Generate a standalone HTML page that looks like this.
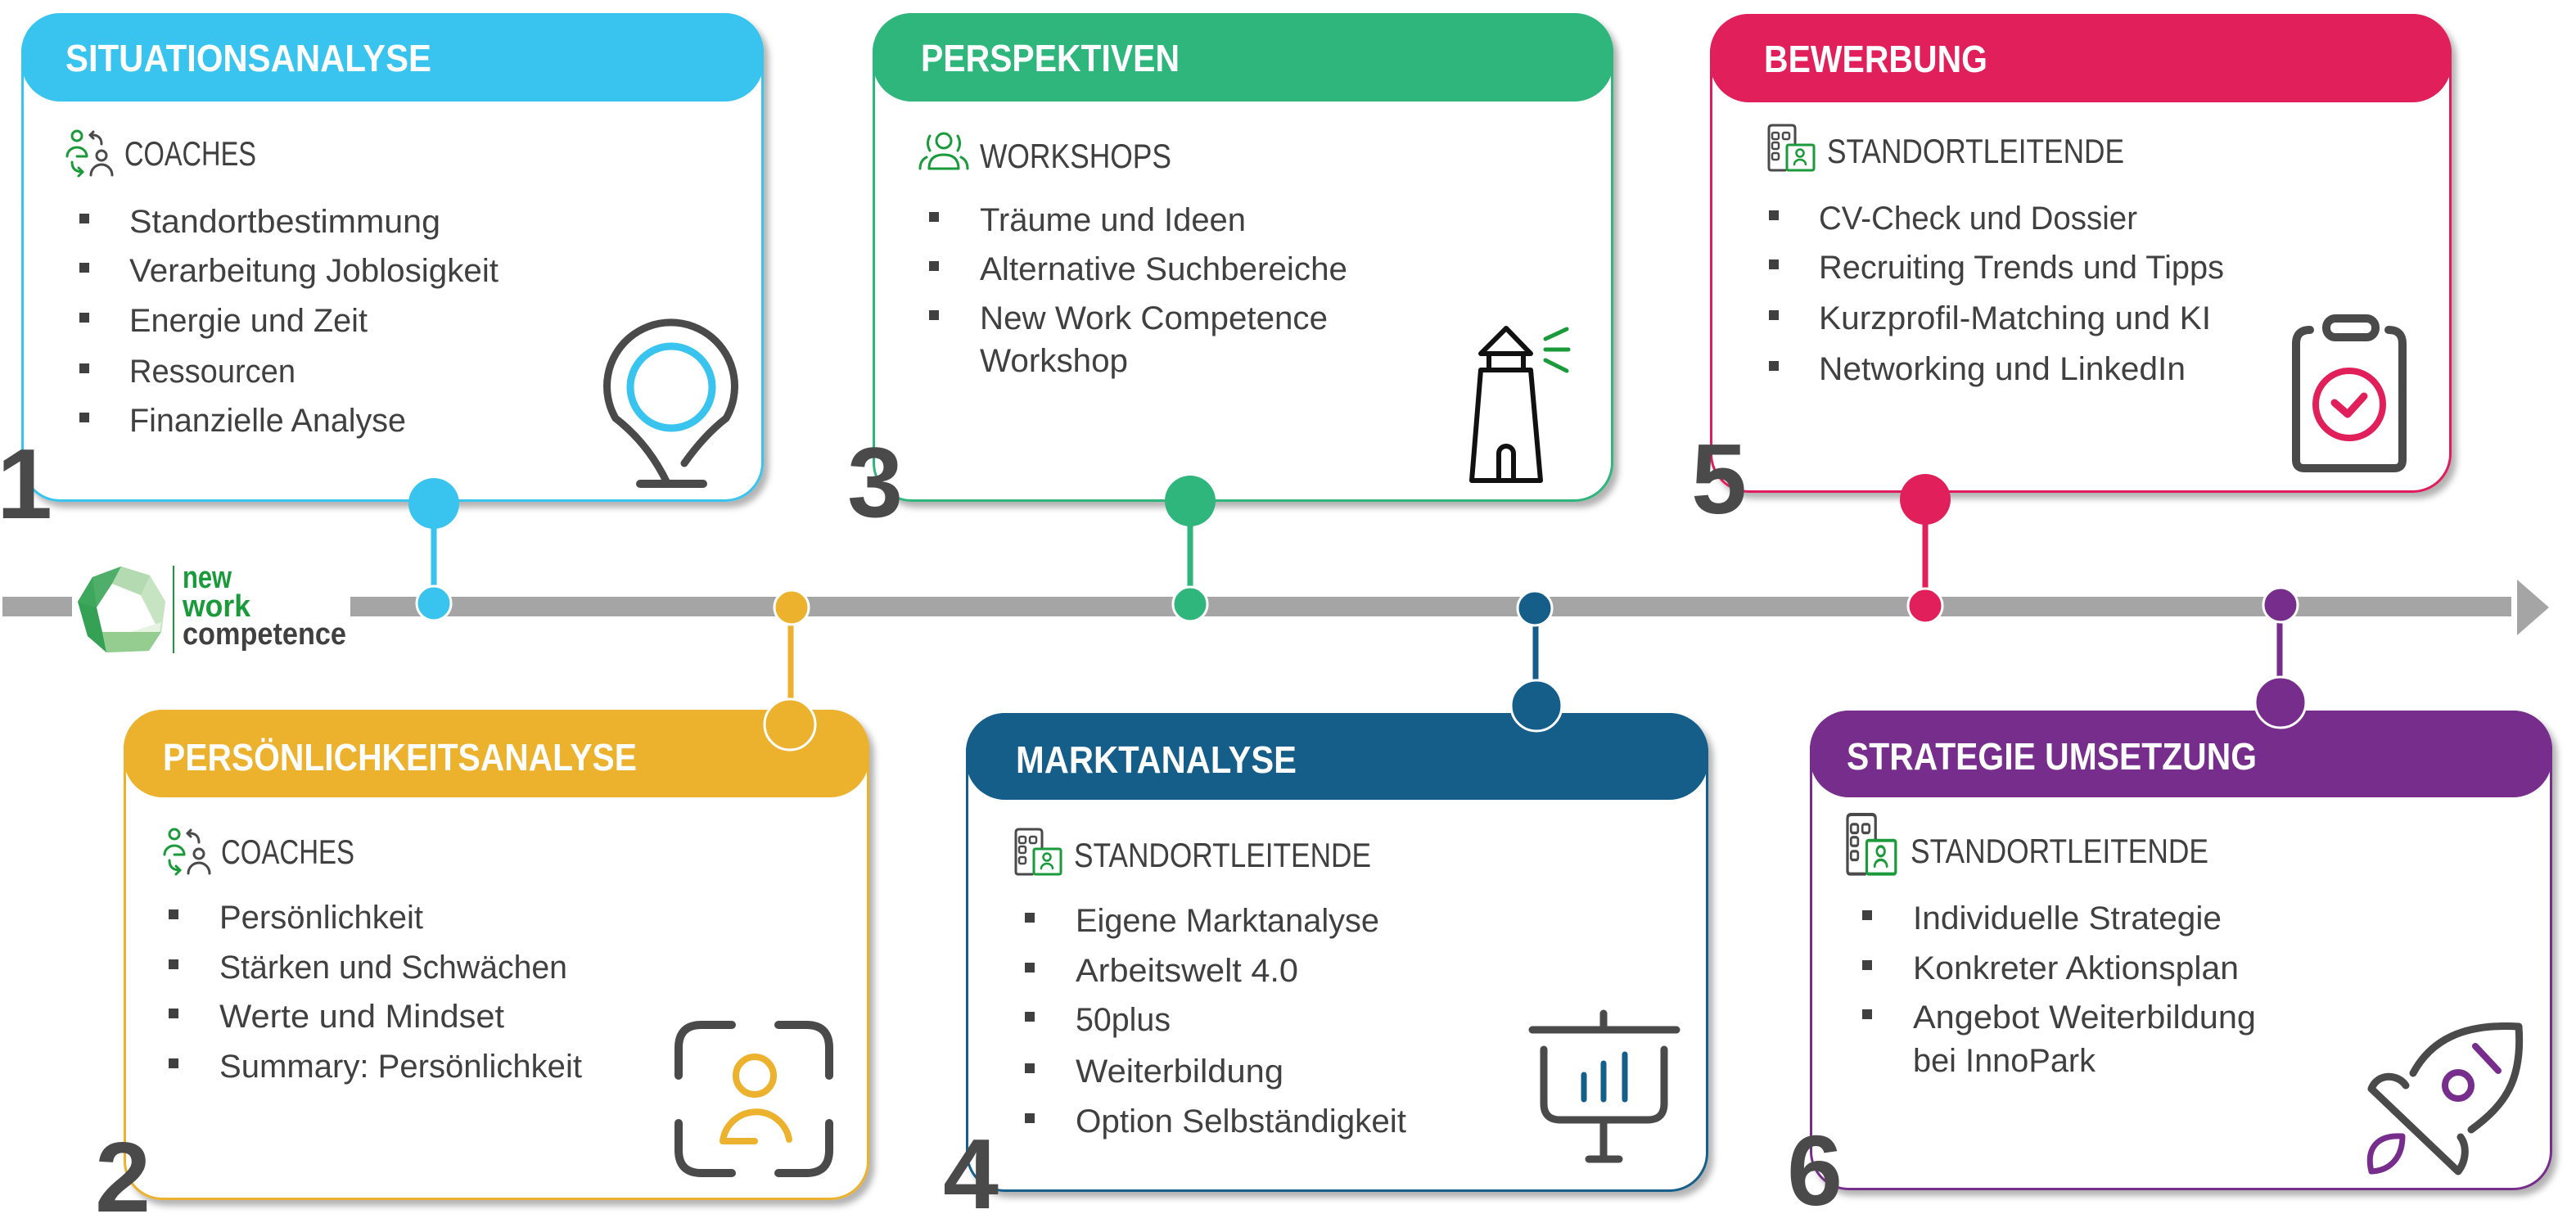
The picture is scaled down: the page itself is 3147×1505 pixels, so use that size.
<!DOCTYPE html>
<html><head><meta charset="utf-8"><style>
html,body{margin:0;padding:0;background:#fff;}
svg{display:block;}
text{font-family:"Liberation Sans",Arial,sans-serif;}
</style></head><body>
<svg width="3147" height="1505" viewBox="0 0 3147 1505" xmlns="http://www.w3.org/2000/svg">
<defs>
<filter id="sh" x="-5%" y="-5%" width="112%" height="115%">
<feDropShadow dx="6" dy="7" stdDeviation="4" flood-color="#000" flood-opacity="0.3"/>
</filter>
<g id="coach" fill="none" stroke-width="3" stroke-linecap="round" stroke-linejoin="round">
<circle cx="14" cy="8" r="6" stroke="#1a9a3a"/>
<path d="M2,33 A12,11 0 0 1 26,33 L14,33" stroke="#1a9a3a"/>
<path d="M8,40 Q8,52 21,52" stroke="#1a9a3a"/>
<path d="M16,47 L21,52 L16,57" stroke="#1a9a3a"/>
<path d="M30,7 Q44,6 44,18" stroke="#4a4a4a"/>
<path d="M34,3 L30,7 L34,11" stroke="#4a4a4a"/>
<circle cx="44" cy="32" r="6" stroke="#4a4a4a"/>
<path d="M31,56 A13,13 0 0 1 57,56" stroke="#4a4a4a"/>
</g>
<g id="leit" fill="none" stroke-width="3" stroke-linejoin="round" stroke-linecap="round">
<path d="M32,23 V4 Q32,0 28,0 H4 Q0,0 0,4 V52 Q0,55 3,55 H20" stroke="#4a4a4a"/>
<rect x="4" y="9" width="8" height="8" rx="2" stroke="#4a4a4a" stroke-width="2.5"/>
<rect x="17" y="9" width="8" height="8" rx="2" stroke="#4a4a4a" stroke-width="2.5"/>
<rect x="4" y="21" width="8" height="8" rx="2" stroke="#4a4a4a" stroke-width="2.5"/>
<rect x="4" y="34" width="8" height="8" rx="2" stroke="#4a4a4a" stroke-width="2.5"/>
<rect x="22" y="24" width="33" height="31" rx="2" stroke="#1a9a3a" fill="#fff"/>
<circle cx="38" cy="34" r="4.5" stroke="#1a9a3a" stroke-width="2.5"/>
<path d="M31,48 A7,6 0 0 1 45,48" stroke="#1a9a3a" stroke-width="2.5"/>
</g>
</defs>

<!-- ===== Timeline ===== -->
<rect x="3" y="729" width="85" height="24" fill="#a5a5a5"/>
<rect x="428" y="729" width="2640" height="24" fill="#a5a5a5"/>
<polygon points="3075,708 3114,742 3075,776" fill="#a5a5a5"/>

<!-- Logo -->
<polygon points="148,692 183,703 202,735 197,772 182,795 130,797 107,777 95,735 113,705" fill="#8fcb8e"/>
<polygon points="148,692 113,705 95,735 118,742 137,713" fill="#4fae6a"/>
<polygon points="95,735 107,777 130,797 125,772 118,742" fill="#34a155"/>
<polygon points="113,705 95,735 118,742" fill="#3da75b"/>
<polygon points="125,772 130,797 182,795 195,772" fill="#95cd91"/>
<polygon points="148,692 183,703 172,727 137,713" fill="#b3dab0"/>
<polygon points="183,703 202,735 197,772 195,772 172,727" fill="#c6e4c1"/>
<polygon points="137,713 172,727 195,772 125,772 118,742" fill="#ffffff"/>
<polygon points="160,772 195,772 197,760" fill="#e6f3e3"/>
<line x1="212" y1="691" x2="212" y2="798" stroke="#1a9a3a" stroke-width="2"/>
<text x="223" y="718" font-size="38" font-weight="bold" fill="#1a9a3a" textLength="60" lengthAdjust="spacingAndGlyphs">new</text>
<text x="223" y="753" font-size="38" font-weight="bold" fill="#1a9a3a" textLength="83" lengthAdjust="spacingAndGlyphs">work</text>
<text x="223" y="787" font-size="38" font-weight="bold" fill="#404040" textLength="200" lengthAdjust="spacingAndGlyphs">competence</text>

<!-- ===== Box 1 ===== -->
<rect x="27.5" y="17.5" width="904" height="594" rx="46" fill="#fff" stroke="#38c4ef" stroke-width="3" filter="url(#sh)"/>
<rect x="26" y="16" width="907" height="108" rx="48" fill="#38c4ef"/>
<text x="80" y="87" font-size="46" font-weight="bold" fill="#fff" textLength="447" lengthAdjust="spacingAndGlyphs">SITUATIONSANALYSE</text>
<use href="#coach" x="80" y="158"/>
<text x="152" y="202" font-size="42" fill="#404040" textLength="161" lengthAdjust="spacingAndGlyphs">COACHES</text>
<g fill="#404040">
<rect x="97" y="261" width="12" height="12"/><rect x="97" y="321" width="12" height="12"/><rect x="97" y="382" width="12" height="12"/><rect x="97" y="444" width="12" height="12"/><rect x="97" y="504" width="12" height="12"/>
</g>
<g font-size="40" fill="#404040">
<text x="158" y="284" textLength="380" lengthAdjust="spacingAndGlyphs">Standortbestimmung</text>
<text x="158" y="344" textLength="451" lengthAdjust="spacingAndGlyphs">Verarbeitung Joblosigkeit</text>
<text x="158" y="405" textLength="291" lengthAdjust="spacingAndGlyphs">Energie und Zeit</text>
<text x="158" y="467" textLength="203" lengthAdjust="spacingAndGlyphs">Ressourcen</text>
<text x="158" y="527" textLength="338" lengthAdjust="spacingAndGlyphs">Finanzielle Analyse</text>
</g>
<g fill="none" stroke-linecap="round">
<path d="M836,566 Q860,532 887,511 A78,78 0 1 0 752,511 Q792,542 815,590" stroke="#4a4a4a" stroke-width="9"/>
<path d="M782,591 H859" stroke="#4a4a4a" stroke-width="10"/>
<circle cx="820" cy="473" r="50" stroke="#38c4ef" stroke-width="9"/>
</g>

<!-- ===== Box 3 ===== -->
<rect x="1067.5" y="17.5" width="902" height="594" rx="46" fill="#fff" stroke="#2fb67c" stroke-width="3" filter="url(#sh)"/>
<rect x="1066" y="16" width="905" height="108" rx="48" fill="#2fb67c"/>
<text x="1125" y="87" font-size="46" font-weight="bold" fill="#fff" textLength="316" lengthAdjust="spacingAndGlyphs">PERSPEKTIVEN</text>
<g fill="none" stroke="#1a9a3a" stroke-width="3" stroke-linecap="round" stroke-linejoin="round">
<circle cx="1153" cy="172" r="9"/>
<path d="M1136,166 Q1131,175 1136,184"/>
<path d="M1170,166 Q1175,175 1170,184"/>
<path d="M1135,206 Q1135,189 1153,189 Q1171,189 1171,206 Z"/>
<path d="M1124,206 Q1124,196 1132,192"/>
<path d="M1182,206 Q1182,196 1174,192"/>
</g>
<text x="1197" y="205" font-size="42" fill="#404040" textLength="234" lengthAdjust="spacingAndGlyphs">WORKSHOPS</text>
<g fill="#404040">
<rect x="1135" y="259" width="12" height="12"/><rect x="1135" y="319" width="12" height="12"/><rect x="1135" y="379" width="12" height="12"/>
</g>
<g font-size="40" fill="#404040">
<text x="1197" y="282" textLength="325" lengthAdjust="spacingAndGlyphs">Träume und Ideen</text>
<text x="1197" y="342" textLength="449" lengthAdjust="spacingAndGlyphs">Alternative Suchbereiche</text>
<text x="1197" y="402" textLength="425" lengthAdjust="spacingAndGlyphs">New Work Competence</text>
<text x="1197" y="454" textLength="181" lengthAdjust="spacingAndGlyphs">Workshop</text>
</g>
<g fill="none" stroke="#111" stroke-width="6" stroke-linejoin="round">
<path d="M1809,432 L1840,401 L1870,432 Z"/>
<rect x="1819" y="432" width="42" height="20"/>
<path d="M1809,452 L1870,452 L1882,587 L1798,587 Z"/>
<path d="M1831,587 V554 A9,9 0 0 1 1849,554 V587"/>
</g>
<g stroke="#1a9a3a" stroke-width="5" stroke-linecap="round">
<line x1="1888" y1="414" x2="1914" y2="402"/>
<line x1="1888" y1="427" x2="1916" y2="427"/>
<line x1="1888" y1="440" x2="1914" y2="453"/>
</g>

<!-- ===== Box 5 ===== -->
<rect x="2090.5" y="18.5" width="903" height="582" rx="46" fill="#fff" stroke="#e01f5b" stroke-width="3" filter="url(#sh)"/>
<rect x="2089" y="17" width="906" height="108" rx="48" fill="#e01f5b"/>
<text x="2155" y="88" font-size="46" font-weight="bold" fill="#fff" textLength="273" lengthAdjust="spacingAndGlyphs">BEWERBUNG</text>
<use href="#leit" x="2161" y="153"/>
<text x="2232" y="199" font-size="42" fill="#404040" textLength="363" lengthAdjust="spacingAndGlyphs">STANDORTLEITENDE</text>
<g fill="#404040">
<rect x="2161" y="257" width="12" height="12"/><rect x="2161" y="317" width="12" height="12"/><rect x="2161" y="379" width="12" height="12"/><rect x="2161" y="441" width="12" height="12"/>
</g>
<g font-size="40" fill="#404040">
<text x="2222" y="280" textLength="389" lengthAdjust="spacingAndGlyphs">CV-Check und Dossier</text>
<text x="2222" y="340" textLength="495" lengthAdjust="spacingAndGlyphs">Recruiting Trends und Tipps</text>
<text x="2222" y="402" textLength="479" lengthAdjust="spacingAndGlyphs">Kurzprofil-Matching und KI</text>
<text x="2222" y="464" textLength="448" lengthAdjust="spacingAndGlyphs">Networking und LinkedIn</text>
</g>
<g fill="none" stroke-linecap="round" stroke-linejoin="round">
<rect x="2842" y="389" width="60" height="23" rx="11" stroke="#4a4a4a" stroke-width="10"/>
<path d="M2822,403 Q2805,403 2805,420 V562 Q2805,572 2815,572 H2925 Q2935,572 2935,562 V420 Q2935,403 2918,403" stroke="#4a4a4a" stroke-width="10"/>
<circle cx="2870" cy="494" r="41" stroke="#e01f5b" stroke-width="8"/>
<path d="M2852,492 L2868,506 L2888,484" stroke="#e01f5b" stroke-width="9"/>
</g>

<!-- ===== Box 2 ===== -->
<rect x="152.5" y="868.5" width="908" height="596" rx="46" fill="#fff" stroke="#ecb22e" stroke-width="3" filter="url(#sh)"/>
<rect x="151" y="867" width="911" height="107" rx="48" fill="#ecb22e"/>
<text x="199" y="941" font-size="46" font-weight="bold" fill="#fff" textLength="579" lengthAdjust="spacingAndGlyphs">PERSÖNLICHKEITSANALYSE</text>
<use href="#coach" x="199" y="1011"/>
<text x="270" y="1055" font-size="42" fill="#404040" textLength="163" lengthAdjust="spacingAndGlyphs">COACHES</text>
<g fill="#404040">
<rect x="206" y="1111" width="12" height="12"/><rect x="206" y="1172" width="12" height="12"/><rect x="206" y="1232" width="12" height="12"/><rect x="206" y="1293" width="12" height="12"/>
</g>
<g font-size="40" fill="#404040">
<text x="268" y="1134" textLength="249" lengthAdjust="spacingAndGlyphs">Persönlichkeit</text>
<text x="268" y="1195" textLength="425" lengthAdjust="spacingAndGlyphs">Stärken und Schwächen</text>
<text x="268" y="1255" textLength="348" lengthAdjust="spacingAndGlyphs">Werte und Mindset</text>
<text x="268" y="1316" textLength="443" lengthAdjust="spacingAndGlyphs">Summary: Persönlichkeit</text>
</g>
<g fill="none" stroke-linecap="round" stroke-linejoin="round">
<g stroke="#4a4a4a" stroke-width="10">
<path d="M829,1314 V1280 Q829,1252 857,1252 H894"/>
<path d="M951,1252 H985 Q1013,1252 1013,1280 V1314"/>
<path d="M829,1372 V1405 Q829,1433 857,1433 H894"/>
<path d="M951,1433 H985 Q1013,1433 1013,1405 V1372"/>
</g>
<circle cx="922" cy="1314" r="23" stroke="#ecb22e" stroke-width="8"/>
<path d="M922,1394 H883 A41,41 0 0 1 964,1392" stroke="#ecb22e" stroke-width="8"/>
</g>

<!-- ===== Box 4 ===== -->
<rect x="1181.5" y="872.5" width="904" height="582" rx="46" fill="#fff" stroke="#155e8a" stroke-width="3" filter="url(#sh)"/>
<rect x="1180" y="871" width="907" height="106" rx="48" fill="#155e8a"/>
<text x="1241" y="944" font-size="46" font-weight="bold" fill="#fff" textLength="343" lengthAdjust="spacingAndGlyphs">MARKTANALYSE</text>
<use href="#leit" x="1241" y="1013"/>
<text x="1312" y="1059" font-size="42" fill="#404040" textLength="363" lengthAdjust="spacingAndGlyphs">STANDORTLEITENDE</text>
<g fill="#404040">
<rect x="1252" y="1115" width="12" height="12"/><rect x="1252" y="1176" width="12" height="12"/><rect x="1252" y="1236" width="12" height="12"/><rect x="1252" y="1299" width="12" height="12"/><rect x="1252" y="1360" width="12" height="12"/>
</g>
<g font-size="40" fill="#404040">
<text x="1314" y="1138" textLength="371" lengthAdjust="spacingAndGlyphs">Eigene Marktanalyse</text>
<text x="1314" y="1199" textLength="272" lengthAdjust="spacingAndGlyphs">Arbeitswelt 4.0</text>
<text x="1314" y="1259" textLength="116" lengthAdjust="spacingAndGlyphs">50plus</text>
<text x="1314" y="1322" textLength="254" lengthAdjust="spacingAndGlyphs">Weiterbildung</text>
<text x="1314" y="1383" textLength="404" lengthAdjust="spacingAndGlyphs">Option Selbständigkeit</text>
</g>
<g fill="none" stroke-linecap="round" stroke-linejoin="round">
<g stroke="#4a4a4a" stroke-width="9">
<path d="M1872,1258 H2048"/>
<path d="M1959,1238 V1258"/>
<path d="M1886,1282 V1348 Q1886,1368 1906,1368 H2013 Q2033,1368 2033,1348 V1282"/>
<path d="M1959,1368 V1416"/>
<path d="M1941,1416 H1978"/>
</g>
<g stroke="#155e8a" stroke-width="7">
<path d="M1935,1313 V1343"/><path d="M1959,1299 V1343"/><path d="M1985,1288 V1343"/>
</g>
</g>

<!-- ===== Box 6 ===== -->
<rect x="2212.5" y="869.5" width="904" height="583" rx="46" fill="#fff" stroke="#772d8b" stroke-width="3" filter="url(#sh)"/>
<rect x="2211" y="868" width="907" height="106" rx="48" fill="#772d8b"/>
<text x="2256" y="940" font-size="46" font-weight="bold" fill="#fff" textLength="501" lengthAdjust="spacingAndGlyphs">STRATEGIE UMSETZUNG</text>
<use href="#leit" transform="translate(2257,995) scale(1.07,1.32)"/>
<text x="2334" y="1054" font-size="42" fill="#404040" textLength="364" lengthAdjust="spacingAndGlyphs">STANDORTLEITENDE</text>
<g fill="#404040">
<rect x="2275" y="1112" width="12" height="12"/><rect x="2275" y="1173" width="12" height="12"/><rect x="2275" y="1233" width="12" height="12"/>
</g>
<g font-size="40" fill="#404040">
<text x="2337" y="1135" textLength="377" lengthAdjust="spacingAndGlyphs">Individuelle Strategie</text>
<text x="2337" y="1196" textLength="398" lengthAdjust="spacingAndGlyphs">Konkreter Aktionsplan</text>
<text x="2337" y="1256" textLength="419" lengthAdjust="spacingAndGlyphs">Angebot Weiterbildung</text>
<text x="2337" y="1309" textLength="223" lengthAdjust="spacingAndGlyphs">bei InnoPark</text>
</g>
<g fill="none" stroke-linecap="round" stroke-linejoin="round">
<g stroke="#4a4a4a" stroke-width="9">
<path d="M2948,1311 C2970,1270 3010,1250 3077,1254 C3082,1320 3060,1350 3019,1380"/>
<path d="M2939,1326 C2930,1312 2905,1310 2897,1330 L3003,1431 C3013,1418 3014,1400 3006,1389"/>
</g>
<g stroke="#772d8b" stroke-width="8">
<circle cx="3003" cy="1326" r="16"/>
<path d="M3024,1278 L3052,1308"/>
<path d="M2897,1431 C2890,1402 2905,1386 2935,1388 C2935,1414 2920,1430 2897,1431 Z" stroke-width="7"/>
</g>
</g>

<!-- ===== Numbers ===== -->
<g font-size="122" font-weight="bold" fill="#4a4a4a" text-anchor="middle">
<text x="30" y="633">1</text>
<text x="1069" y="631">3</text>
<text x="2100" y="627">5</text>
<text x="150" y="1480">2</text>
<text x="1186" y="1476">4</text>
<text x="2217" y="1472">6</text>
</g>

<!-- ===== Connectors ===== -->
<line x1="530" y1="615" x2="530" y2="737" stroke="#38c4ef" stroke-width="7"/>
<circle cx="530" cy="615" r="31" fill="#38c4ef"/>
<circle cx="530" cy="737" r="21" fill="#38c4ef" stroke="#fff" stroke-width="3"/>

<line x1="966" y1="742" x2="966" y2="885" stroke="#ecb22e" stroke-width="7"/>
<circle cx="967" cy="742" r="21" fill="#ecb22e" stroke="#fff" stroke-width="3"/>
<circle cx="965" cy="885" r="31" fill="#ecb22e" stroke="#fff" stroke-width="3"/>

<line x1="1454" y1="612" x2="1454" y2="738" stroke="#2fb67c" stroke-width="7"/>
<circle cx="1454" cy="612" r="31" fill="#2fb67c"/>
<circle cx="1454" cy="738" r="21" fill="#2fb67c" stroke="#fff" stroke-width="3"/>

<line x1="1876" y1="743" x2="1876" y2="862" stroke="#155e8a" stroke-width="7"/>
<circle cx="1875" cy="743" r="21" fill="#155e8a" stroke="#fff" stroke-width="3"/>
<circle cx="1877" cy="862" r="31" fill="#155e8a" stroke="#fff" stroke-width="3"/>

<line x1="2352" y1="610" x2="2352" y2="740" stroke="#e01f5b" stroke-width="7"/>
<circle cx="2352" cy="610" r="31" fill="#e01f5b"/>
<circle cx="2352" cy="740" r="21" fill="#e01f5b" stroke="#fff" stroke-width="3"/>

<line x1="2785" y1="739" x2="2785" y2="858" stroke="#772d8b" stroke-width="7"/>
<circle cx="2786" cy="739" r="21" fill="#772d8b" stroke="#fff" stroke-width="3"/>
<circle cx="2786" cy="858" r="31" fill="#772d8b" stroke="#fff" stroke-width="3"/>
</svg>
</body></html>
